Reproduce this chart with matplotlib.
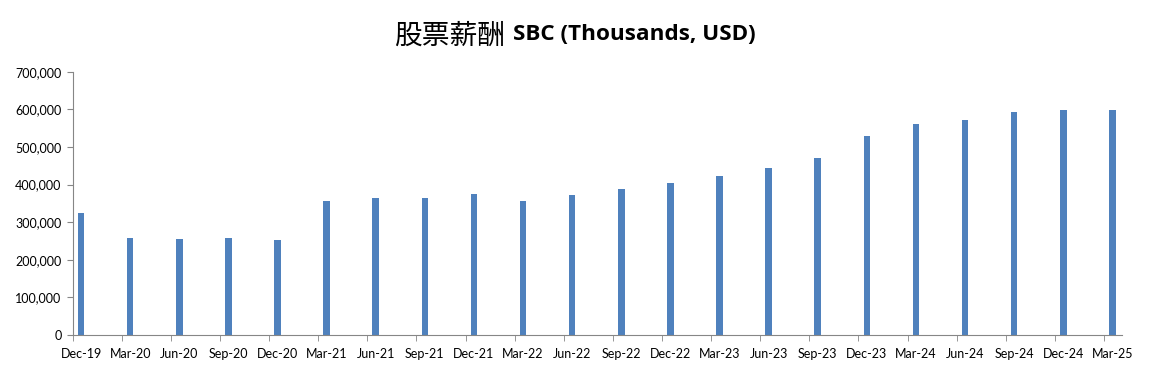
import matplotlib
matplotlib.use("Agg")
import matplotlib.pyplot as plt
from matplotlib.ticker import FuncFormatter, FixedLocator

categories = ["Dec-19", "Mar-20", "Jun-20", "Sep-20", "Dec-20", "Mar-21", "Jun-21",
              "Sep-21", "Dec-21", "Mar-22", "Jun-22", "Sep-22", "Dec-22", "Mar-23",
              "Jun-23", "Sep-23", "Dec-23", "Mar-24", "Jun-24", "Sep-24", "Dec-24", "Mar-25"]
sbc = [325000, 258700, 256000, 258700, 253400, 357000, 365000,
       365000, 375600, 357000, 373000, 389000, 405000, 423500,
       444800, 471000, 530000, 561700, 572000, 593600, 599000, 599000]
y_ticks = [0, 100000, 200000, 300000, 400000, 500000, 600000, 700000]

W, H = 1152, 375
fig = plt.figure(figsize=(W / 100, H / 100), dpi=100)
ax = fig.add_axes([72.7 / W, 1 - 335 / H, (1121.7 - 72.7) / W, (335 - 71.7) / H])

x = list(range(len(categories)))
ax.bar(x, sbc, width=0.135, color="#4F81BD", zorder=2)

ax.set_ylim(0, 700000)
ax.set_xlim(-0.17, 21.19)
ax.set_yticks(y_ticks)
ax.yaxis.set_major_formatter(FuncFormatter(lambda v, p: f"{int(v):,}"))

ax.set_xticks(x)
ax.set_xticklabels(categories)
ax.xaxis.set_minor_locator(FixedLocator([i - 0.17 for i in x]))

for lab in ax.get_xticklabels() + ax.get_yticklabels():
    lab.set_fontfamily(["Lato", "DejaVu Sans"])
    lab.set_fontsize(9)
    lab.set_color("#000000")

spine_c = "#868686"
for s in ["top", "right"]:
    ax.spines[s].set_visible(False)
ax.spines["left"].set_color(spine_c)
ax.spines["bottom"].set_color(spine_c)
ax.tick_params(axis="y", which="major", direction="out", length=4, color=spine_c, pad=4)
ax.tick_params(axis="x", which="major", length=0, pad=9)
ax.tick_params(axis="x", which="minor", direction="out", length=4, color=spine_c)

fig.text(505 / W, 1 - 36 / H, "股票薪酬", ha="right", va="center",
         family=["Noto Sans CJK SC", "DejaVu Sans"], fontsize=20)
fig.text(513 / W, 1 - 35 / H, "SBC (Thousands, USD)", ha="left", va="center",
         family=["Open Sans", "DejaVu Sans"], fontweight="bold", fontsize=16.2)

fig.savefig("out.png", dpi=100)
